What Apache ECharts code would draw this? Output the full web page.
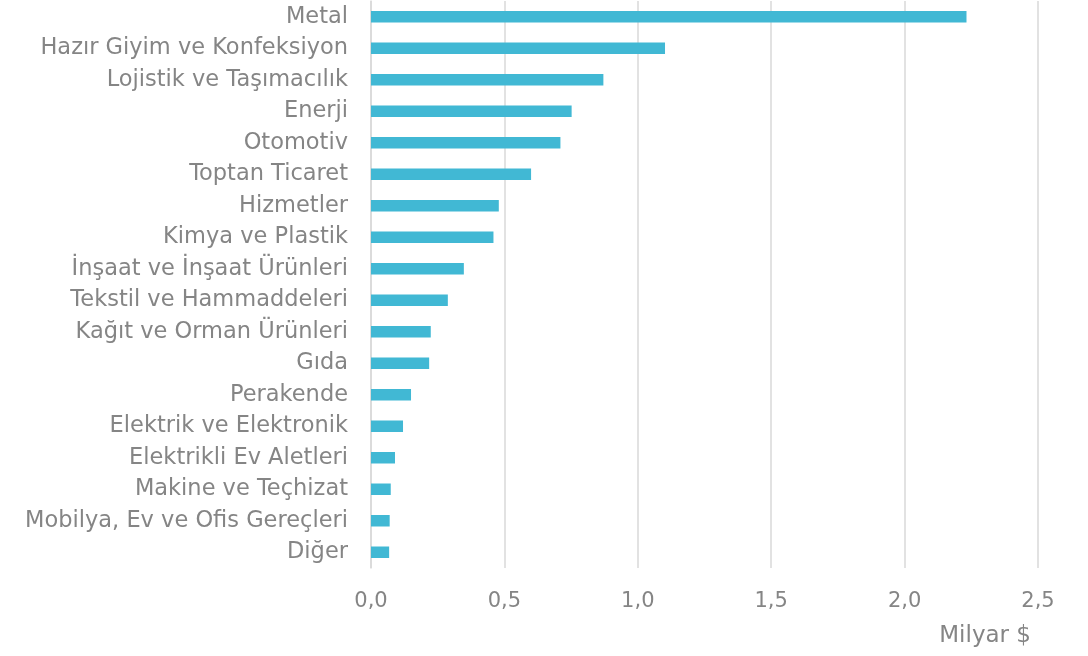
<!DOCTYPE html>
<html>
<head>
<meta charset="utf-8">
<script src="https://cdn.jsdelivr.net/npm/echarts@6/dist/echarts.min.js"></script>
<style>
html,body{margin:0;padding:0;background:#fff;}
#c{width:1088px;height:656px;}
</style>
</head>
<body>
<div id="c"></div>
<script>
const categories = [
  "Metal",
  "Hazır Giyim ve Konfeksiyon",
  "Lojistik ve Taşımacılık",
  "Enerji",
  "Otomotiv",
  "Toptan Ticaret",
  "Hizmetler",
  "Kimya ve Plastik",
  "İnşaat ve İnşaat Ürünleri",
  "Tekstil ve Hammaddeleri",
  "Kağıt ve Orman Ürünleri",
  "Gıda",
  "Perakende",
  "Elektrik ve Elektronik",
  "Elektrikli Ev Aletleri",
  "Makine ve Teçhizat",
  "Mobilya, Ev ve Ofis Gereçleri",
  "Diğer"
];
const values = [2.232, 1.102, 0.871, 0.752, 0.710, 0.600, 0.479, 0.459, 0.348, 0.288, 0.224, 0.218, 0.150, 0.120, 0.090, 0.074, 0.070, 0.068];
const axisName = "Milyar $";

const chart = echarts.init(document.getElementById('c'));
const font = "DejaVu Sans";
const grey = "#858585";
chart.setOption({
  animation: false,
  grid: { left: 371, right: 50, top: 1, bottom: 88, containLabel: false },
  xAxis: {
    type: 'value', min: 0, max: 2.5, interval: 0.5,
    axisLine: { show: false }, axisTick: { show: false },
    splitLine: { show: true, lineStyle: { color: '#D9D9D9', width: 1.5 } },
    axisLabel: {
      color: grey, fontFamily: font, fontSize: 21, margin: 23,
      formatter: v => v.toFixed(1).replace('.', ',')
    }
  },
  yAxis: {
    type: 'category', data: categories, inverse: true,
    axisLine: { show: true, lineStyle: { color: '#D9D9D9', width: 1.5 } },
    axisTick: { show: false },
    axisLabel: { color: grey, fontFamily: font, fontSize: 22.5, margin: 23 }
  },
  series: [{
    type: 'bar', data: values, barWidth: 11.5,
    itemStyle: { color: '#41B8D4' }
  }],
  graphic: [{
    type: 'text', right: 57, top: 625,
    style: { text: axisName, fill: grey, font: '23px "DejaVu Sans"' }
  }]
});
</script>
</body>
</html>
